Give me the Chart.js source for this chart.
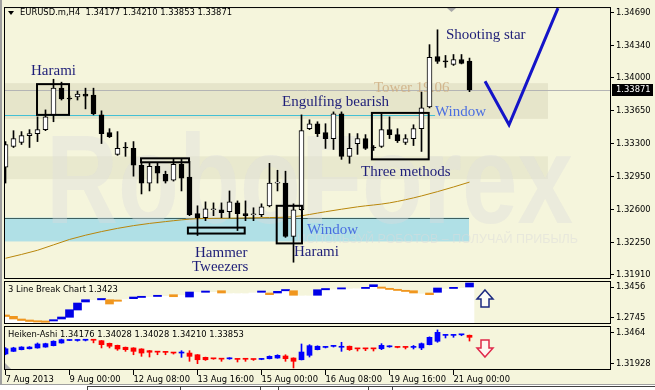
<!DOCTYPE html>
<html>
<head>
<meta charset="utf-8">
<script src="https://cdn.jsdelivr.net/npm/chart.js@4.4.0/dist/chart.umd.min.js"></script>
<style>
  body { margin: 0; background: #f5f5dc; }
  #wrap { position: relative; width: 655px; height: 390px; overflow: hidden; }
  canvas { position: absolute; left: 0; top: 0; }
</style>
</head>
<body>
<div id="wrap">
  <canvas id="c-main" width="655" height="390"></canvas>
  <canvas id="c-lb" width="655" height="390"></canvas>
  <canvas id="c-ha" width="655" height="390"></canvas>
</div>
<script>
// EURUSD.m H4 candles, 7 Aug - 21 Aug 2013
const candleOpen = [
  1.33049, 1.33270, 1.33312, 1.33386, 1.33407, 1.33449, 1.33606, 1.33890, 1.33785, 1.33796,
  1.33827, 1.33817, 1.33606, 1.33417, 1.33186, 1.33259, 1.33249, 1.33070, 1.32881, 1.33060,
  1.32975, 1.32912, 1.33081, 1.32944, 1.32555, 1.32513, 1.32597, 1.32597, 1.32576, 1.32670,
  1.32555, 1.32544, 1.32544, 1.32639, 1.32881, 1.32881, 1.32313, 1.32597, 1.33459, 1.33512,
  1.33417, 1.33354, 1.33617, 1.33165, 1.33301, 1.33354, 1.33259, 1.33270, 1.33449, 1.33396,
  1.33312, 1.33354, 1.33459, 1.33691, 1.34227, 1.34174, 1.34143, 1.34195, 1.34177
];
const candleHigh = [
  1.33322, 1.33438, 1.33428, 1.33449, 1.33585, 1.33659, 1.33985, 1.33954, 1.33806, 1.33859,
  1.33890, 1.33890, 1.33649, 1.33459, 1.33428, 1.33312, 1.33322, 1.33091, 1.33091, 1.33091,
  1.33007, 1.33133, 1.33133, 1.33112, 1.32639, 1.32681, 1.32670, 1.32670, 1.32797, 1.32691,
  1.32691, 1.32618, 1.32660, 1.33091, 1.33017, 1.33007, 1.32660, 1.33606, 1.33554, 1.33533,
  1.33512, 1.33638, 1.33638, 1.33407, 1.33407, 1.33396, 1.33280, 1.33617, 1.33585, 1.33459,
  1.33396, 1.33501, 1.33848, 1.34353, 1.34511, 1.34238, 1.34248, 1.34248, 1.34210
];
const candleLow = [
  1.32881, 1.33259, 1.33291, 1.33259, 1.33322, 1.33438, 1.33533, 1.33764, 1.33764, 1.33764,
  1.33670, 1.33606, 1.33301, 1.33365, 1.33176, 1.33165, 1.32954, 1.32765, 1.32797, 1.32881,
  1.32881, 1.32902, 1.32797, 1.32534, 1.32323, 1.32481, 1.32534, 1.32513, 1.32513, 1.32376,
  1.32481, 1.32481, 1.32523, 1.32628, 1.32797, 1.32303, 1.32039, 1.32587, 1.33449, 1.33375,
  1.33249, 1.33238, 1.33133, 1.33091, 1.33186, 1.33238, 1.33228, 1.33259, 1.33354, 1.33312,
  1.33291, 1.33280, 1.33217, 1.33680, 1.34153, 1.34111, 1.34132, 1.34148, 1.33853
];
const candleClose = [
  1.33291, 1.33354, 1.33386, 1.33407, 1.33449, 1.33585, 1.33890, 1.33775, 1.33775, 1.33827,
  1.33806, 1.33617, 1.33407, 1.33375, 1.33249, 1.33254, 1.33070, 1.32881, 1.33060, 1.32986,
  1.32902, 1.33081, 1.32933, 1.32544, 1.32513, 1.32607, 1.32602, 1.32565, 1.32681, 1.32555,
  1.32534, 1.32549, 1.32628, 1.32881, 1.32886, 1.32313, 1.32597, 1.33438, 1.33512, 1.33407,
  1.33354, 1.33617, 1.33165, 1.33249, 1.33354, 1.33249, 1.33254, 1.33449, 1.33396, 1.33333,
  1.33354, 1.33459, 1.33680, 1.34217, 1.34174, 1.34169, 1.34195, 1.34153, 1.33871
];

// moving average, read at a few bars
const maIdx = [0, 4, 8, 12, 16, 20, 24, 28, 32, 36, 40, 44, 48, 52, 56, 58];
const maVal = [1.32081, 1.32166, 1.32281, 1.32365, 1.32428, 1.32471, 1.32502, 1.32507,
               1.32513, 1.32523, 1.32576, 1.32628, 1.32670, 1.32744, 1.32839, 1.32891];

// 3 Line Break boxes: top, bottom, colour (b = up, o = down, '' = not visible)
const lbHi = [
  1.2815, 1.2784, 1.2722, 1.2699, 1.2682, 1.2676, 1.2706, 1.2768, 1.2937, 1.3092,
  1.3169, 1.3185, 1.3197, 1.3169, 1.3162, 1.3201, 1.3231, 1.3248, 1.3255, 1.3271,
  1.3278, 1.3285, 1.3294, 1.3347, 1.3363, 1.3370, 1.3370, 1.3377, 1.3336, 1.3336,
  1.3336, 1.3354, 1.3370, 1.3324, 1.3363, 1.3405, 1.3377, 1.3282, 1.3282, 1.3400,
  1.3428, 1.3428, 1.3444, 1.3444, 1.3451, 1.3456, 1.3516, 1.3463, 1.3433, 1.3410,
  1.3387, 1.3377, 1.3329, 1.3324, 1.3440, 1.3444, 1.3456, 1.3463, 1.3556
];
const lbLo = [
  1.2780, 1.2722, 1.2687, 1.2664, 1.2652, 1.2645, 1.2676, 1.2722, 1.2761, 1.2930,
  1.3116, 1.3155, 1.3166, 1.3069, 1.3132, 1.3173, 1.3192, 1.3220, 1.3224, 1.3243,
  1.3248, 1.3238, 1.3266, 1.3231, 1.3336, 1.3340, 1.3340, 1.3324, 1.3308, 1.3308,
  1.3308, 1.3324, 1.3340, 1.3285, 1.3324, 1.3375, 1.3271, 1.3255, 1.3255, 1.3271,
  1.3398, 1.3398, 1.3417, 1.3417, 1.3421, 1.3428, 1.3470, 1.3433, 1.3405, 1.3382,
  1.3359, 1.3324, 1.3301, 1.3285, 1.3340, 1.3417, 1.3428, 1.3433, 1.3463
];
const lbCol = [
  'o', 'o', 'o', 'o', 'o', 'o', 'b', 'b', 'b', 'b',
  'b', '', 'b', 'o', 'o', '', 'b', 'b', '', 'b',
  '', 'o', '', 'b', '', 'b', '', 'o', '', '',
  '', '', 'b', 'o', 'b', 'b', 'o', '', '', 'b',
  'b', '', 'b', '', '', 'b', 'b', 'o', 'o', 'o',
  'o', 'o', '', 'o', 'b', '', 'b', '', 'b'
];

// Heiken-Ashi
const haOpen = [
  1.3279, 1.3302, 1.3317, 1.3325, 1.3332, 1.3340, 1.3352, 1.3376, 1.3398, 1.3398,
  1.3400, 1.3402, 1.3396, 1.3373, 1.3355, 1.3338, 1.3332, 1.3323, 1.3308, 1.3297,
  1.3295, 1.3289, 1.3287, 1.3287, 1.3272, 1.3249, 1.3238, 1.3235, 1.3236, 1.3233,
  1.3234, 1.3232, 1.3231, 1.3237, 1.3243, 1.3261, 1.3243, 1.3228, 1.3267, 1.3317,
  1.3337, 1.3346, 1.3338, 1.3347, 1.3326, 1.3326, 1.3326, 1.3325, 1.3342, 1.3339,
  1.3339, 1.3337, 1.3332, 1.3361, 1.3391, 1.3443, 1.3443, 1.3448, 1.3444
];
const haHigh = [
  1.3335, 1.3338, 1.3343, 1.3344, 1.3376, 1.3374, 1.3395, 1.3410, 1.3402, 1.3404,
  1.3406, 1.3404, 1.3398, 1.3375, 1.3357, 1.3340, 1.3334, 1.3325, 1.3310, 1.3298,
  1.3296, 1.3290, 1.3308, 1.3308, 1.3274, 1.3251, 1.3240, 1.3236, 1.3246, 1.3234,
  1.3235, 1.3233, 1.3240, 1.3262, 1.3272, 1.3272, 1.3245, 1.3367, 1.3361, 1.3351,
  1.3345, 1.3354, 1.3382, 1.3349, 1.3327, 1.3327, 1.3327, 1.3370, 1.3352, 1.3340,
  1.3340, 1.3354, 1.3376, 1.3430, 1.3491, 1.3447, 1.3447, 1.3452, 1.3446
];
const haLow = [
  1.3272, 1.3300, 1.3315, 1.3323, 1.3330, 1.3338, 1.3350, 1.3374, 1.3396, 1.3392,
  1.3394, 1.3377, 1.3332, 1.3332, 1.3311, 1.3302, 1.3272, 1.3258, 1.3252, 1.3272,
  1.3272, 1.3278, 1.3249, 1.3214, 1.3193, 1.3222, 1.3232, 1.3214, 1.3232, 1.3208,
  1.3214, 1.3222, 1.3228, 1.3235, 1.3241, 1.3214, 1.3155, 1.3226, 1.3252, 1.3315,
  1.3332, 1.3340, 1.3302, 1.3310, 1.3305, 1.3308, 1.3305, 1.3317, 1.3338, 1.3333,
  1.3323, 1.3323, 1.3317, 1.3359, 1.3382, 1.3420, 1.3426, 1.3440, 1.3393
];
const haClose = [
  1.3325, 1.3332, 1.3340, 1.3340, 1.3367, 1.3370, 1.3391, 1.3405, 1.3400, 1.3400,
  1.3402, 1.3400, 1.3361, 1.3347, 1.3323, 1.3317, 1.3302, 1.3287, 1.3294, 1.3295,
  1.3293, 1.3287, 1.3289, 1.3258, 1.3228, 1.3228, 1.3236, 1.3233, 1.3238, 1.3231,
  1.3232, 1.3230, 1.3233, 1.3258, 1.3267, 1.3237, 1.3214, 1.3296, 1.3352, 1.3347,
  1.3339, 1.3348, 1.3343, 1.3317, 1.3324, 1.3324, 1.3324, 1.3355, 1.3344, 1.3337,
  1.3337, 1.3339, 1.3370, 1.3426, 1.3470, 1.3445, 1.3445, 1.3450, 1.3426
];

const timeIdx = [0, 8, 16, 24, 32, 40, 48, 56];
const timeLabels = ['7 Aug 2013', '9 Aug 00:00', '12 Aug 08:00', '13 Aug 16:00',
                    '15 Aug 00:00', '16 Aug 08:00', '19 Aug 16:00', '21 Aug 00:00'];
const mainTicks = [1.34690, 1.34340, 1.34000, 1.33650, 1.33300, 1.32950, 1.32600, 1.32250, 1.31910];
const lbTicks = [1.3456, 1.2745];
const lbTickLabels = ['1.3456', '1.2745'];
const haTicks = [1.3464, 1.31928];
const haTickLabels = ['1.3464', '1.31928'];

// pattern annotations, in bar index / price units
const zones = [
  { x0: -0.2, x1: 67.8, p0: 1.33943, p1: 1.33564, fill: 'rgba(170,165,130,0.2)' },
  { x0: -0.2, x1: 67.8, p0: 1.33165, p1: 1.32923, fill: 'rgba(170,165,130,0.15)' },
  { x0: -0.2, x1: 57.94, p0: 1.32513, p1: 1.32260, fill: '#b0e0e6' }
];
const boxes = [
  { x0: 3.94, x1: 7.94, p0: 1.33933, p1: 1.33606 },
  { x0: 16.94, x1: 22.94, p0: 1.33144, p1: 1.33102 },
  { x0: 22.8, x1: 29.9, p0: 1.32407, p1: 1.32344 },
  { x0: 33.9, x1: 37.06, p0: 1.32639, p1: 1.32239 },
  { x0: 45.8, x1: 52.9, p0: 1.33627, p1: 1.33133 }
];
const NAVY = '#1e1e78';
const notes = [
  { text: 'Harami', x: 3.19, p: 1.34069, color: NAVY },
  { text: 'Engulfing bearish', x: 34.56, p: 1.33743, color: NAVY },
  { text: 'Shooting star', x: 55.06, p: 1.34458, color: NAVY },
  { text: 'Three methods', x: 44.44, p: 1.32996, color: NAVY },
  { text: 'Hammer', x: 23.69, p: 1.32134, color: NAVY },
  { text: 'Tweezers', x: 23.31, p: 1.31987, color: NAVY },
  { text: 'Harami', x: 36.06, p: 1.32144, color: NAVY },
  { text: 'Window', x: 37.69, p: 1.32376, color: '#4a6ee0' },
  { text: 'Window', x: 53.69, p: 1.33638, color: '#4a6ee0' }
];
const towerNote = { text: 'Tower 19.06', x: 46.06, p: 1.33890, color: 'rgba(205,170,125,0.8)' };
const checkX = [59.94, 62.94, 69.06];
const checkP = [1.33964, 1.33501, 1.34742];

const X_MIN = -0.1875, X_MAX = 75.6875;
const UI_FONT = '8.4px "DejaVu Sans"';
const tickFont = { family: 'DejaVu Sans', size: 8.4 };

Chart.defaults.animation = false;
Chart.defaults.events = [];
Chart.defaults.plugins.legend.display = false;
Chart.defaults.plugins.tooltip.enabled = false;

function xAxis(show) {
  const ax = {
    type: 'linear', min: X_MIN, max: X_MAX, offset: false, display: show,
    grid: { offset: false, drawOnChartArea: false, tickLength: 5, color: '#000' },
    border: { display: false }
  };
  if (show) {
    ax.afterBuildTicks = s => { s.ticks = timeIdx.map(v => ({ value: v })); };
    ax.afterFit = s => { s.height = 14; };
    ax.ticks = { autoSkip: false, maxRotation: 0, align: 'start', padding: 0, color: '#000', font: tickFont,
                 callback: (v, i) => timeLabels[i] };
  }
  return ax;
}

function yAxis(min, max, ticks, labelOf) {
  return {
    position: 'right', min, max, beginAtZero: false,
    afterFit: s => { s.width = 44; },
    afterBuildTicks: s => { s.ticks = ticks.map(v => ({ value: v })); },
    ticks: { autoSkip: false, padding: 2, color: '#000', font: tickFont, callback: labelOf },
    grid: { drawOnChartArea: false, tickLength: 3, color: '#000' },
    border: { display: false }
  };
}

function frame(chart) {
  const { ctx, chartArea: a } = chart;
  ctx.save();
  ctx.strokeStyle = '#000';
  ctx.lineWidth = 1;
  ctx.strokeRect(a.left + 0.5, a.top + 0.5, a.width - 1, a.height - 1);
  ctx.restore();
}

function drawArrow(ctx, cx, top, up, stroke, fill) {
  const h = 17, head = 9, hw = 8, sw = 4;
  const Y = d => up ? top + d : top + h - d;
  ctx.save();
  ctx.beginPath();
  ctx.moveTo(cx, Y(0));
  ctx.lineTo(cx + hw, Y(head));
  ctx.lineTo(cx + sw, Y(head));
  ctx.lineTo(cx + sw, Y(h));
  ctx.lineTo(cx - sw, Y(h));
  ctx.lineTo(cx - sw, Y(head));
  ctx.lineTo(cx - hw, Y(head));
  ctx.closePath();
  ctx.fillStyle = fill;
  ctx.fill();
  ctx.strokeStyle = stroke;
  ctx.lineWidth = 1.5;
  ctx.stroke();
  ctx.restore();
}

const mainDecor = {
  id: 'mainDecor',
  beforeDatasetsDraw(chart) {
    const { ctx, chartArea: a, scales: { x, y } } = chart;
    ctx.save();
    ctx.beginPath();
    ctx.rect(a.left, a.top, a.width, a.height);
    ctx.clip();

    zones.forEach(z => {
      const x0 = x.getPixelForValue(z.x0), x1 = x.getPixelForValue(z.x1);
      const y0 = y.getPixelForValue(z.p0), y1 = y.getPixelForValue(z.p1);
      ctx.fillStyle = z.fill;
      ctx.fillRect(x0, y0, x1 - x0, y1 - y0);
    });

    // window edges
    ctx.lineWidth = 1;
    ctx.strokeStyle = '#3d5f5f';
    let yy = Math.round(y.getPixelForValue(1.32513)) + 0.5;
    ctx.beginPath(); ctx.moveTo(a.left, yy); ctx.lineTo(x.getPixelForValue(57.94), yy); ctx.stroke();
    ctx.strokeStyle = '#44c0d4';
    yy = Math.round(y.getPixelForValue(1.33603)) + 0.5;
    ctx.beginPath(); ctx.moveTo(a.left, yy); ctx.lineTo(x.getPixelForValue(53.7), yy); ctx.stroke();

    // watermark over the zones
    ctx.save();
    ctx.font = 'bold 126px "Liberation Sans"';
    const w = ctx.measureText('RoboForex').width;
    ctx.translate(46, 223);
    ctx.scale(527 / w, 1);
    ctx.fillStyle = 'rgba(220,220,220,0.4)';
    ctx.fillText('RoboForex', 0, 0);
    ctx.restore();
    ctx.font = '12.5px "Liberation Sans"';
    ctx.textAlign = 'right';
    ctx.fillStyle = 'rgba(220,220,220,0.5)';
    ctx.fillText('ИСПОЛЬЗУЙ РОБОТОВ – ПОЛУЧАЙ ПРИБЫЛЬ', 578, 243);

    // last price line
    const last = candleClose[candleClose.length - 1];
    yy = Math.round(y.getPixelForValue(last)) + 0.5;
    ctx.strokeStyle = '#b4b4b4';
    ctx.beginPath(); ctx.moveTo(a.left, yy); ctx.lineTo(a.right, yy); ctx.stroke();

    ctx.font = '15px "Liberation Serif"';
    ctx.textAlign = 'left';
    ctx.textBaseline = 'middle';
    ctx.fillStyle = towerNote.color;
    ctx.fillText(towerNote.text, x.getPixelForValue(towerNote.x), y.getPixelForValue(towerNote.p));
    ctx.restore();
  },
  afterDatasetsDraw(chart) {
    const { ctx, chartArea: a, scales: { x, y } } = chart;
    ctx.save();
    ctx.strokeStyle = '#000';
    ctx.lineWidth = 2;
    boxes.forEach(b => {
      const x0 = x.getPixelForValue(b.x0), x1 = x.getPixelForValue(b.x1);
      const y0 = y.getPixelForValue(b.p0), y1 = y.getPixelForValue(b.p1);
      ctx.strokeRect(x0, y0, x1 - x0, y1 - y0);
    });

    ctx.font = '15px "Liberation Serif"';
    ctx.textBaseline = 'middle';
    ctx.textAlign = 'left';
    notes.forEach(n => {
      ctx.fillStyle = n.color;
      ctx.fillText(n.text, x.getPixelForValue(n.x), y.getPixelForValue(n.p));
    });

    // forecast tick
    ctx.strokeStyle = '#1414c8';
    ctx.lineWidth = 3;
    ctx.lineJoin = 'miter';
    ctx.beginPath();
    checkX.forEach((v, i) => {
      const px = x.getPixelForValue(v), py = y.getPixelForValue(checkP[i]);
      if (i === 0) ctx.moveTo(px, py); else ctx.lineTo(px, py);
    });
    ctx.stroke();

    // title
    const n = candleOpen.length - 1;
    ctx.fillStyle = '#000';
    ctx.beginPath();
    ctx.moveTo(8, 11); ctx.lineTo(14, 11); ctx.lineTo(11, 15); ctx.closePath();
    ctx.fill();
    ctx.font = UI_FONT;
    ctx.fillText('EURUSD.m,H4  ' + [candleOpen[n], candleHigh[n], candleLow[n], candleClose[n]]
      .map(v => v.toFixed(5)).join(' '), 20, 13);

    // shift marker
    ctx.fillStyle = '#a8a8a8';
    ctx.beginPath();
    ctx.moveTo(447, a.top + 1); ctx.lineTo(456, a.top + 1); ctx.lineTo(451.5, a.top + 5); ctx.closePath();
    ctx.fill();
    ctx.restore();
  },
  afterDraw(chart) {
    frame(chart);
    const { ctx, chartArea: a, scales: { y } } = chart;
    const last = candleClose[candleClose.length - 1];
    const py = Math.round(y.getPixelForValue(last));
    ctx.save();
    ctx.fillStyle = '#000';
    ctx.fillRect(a.right + 1, py - 6, 41, 12);
    ctx.fillStyle = '#fff';
    ctx.font = UI_FONT;
    ctx.textBaseline = 'middle';
    ctx.fillText(last.toFixed(5), a.right + 5, py);
    // window edge and bottom tab strip
    ctx.fillStyle = '#a0a0a0';
    ctx.fillRect(0, 0, 2, 384);
    ctx.fillStyle = '#ffffff';
    ctx.fillRect(0, 384, 655, 6);
    ctx.fillStyle = '#a0a0a0';
    ctx.fillRect(0, 384, 655, 1);
    ctx.fillStyle = '#404040';
    ctx.fillRect(87, 386, 568, 1);
    [87, 180, 260, 278, 368, 392].forEach(v => ctx.fillRect(v, 386, 1, 4));
    ctx.restore();
  }
};

new Chart(document.getElementById('c-main'), {
  type: 'bar',
  data: {
    datasets: [
      {
        label: 'body',
        data: candleOpen.map((o, i) => ({ x: i, y: [o, candleClose[i]] })),
        backgroundColor: candleOpen.map((o, i) => candleClose[i] > o ? '#ffffff' : '#000000'),
        borderColor: '#000', borderWidth: 1, borderSkipped: false,
        barThickness: 5, grouped: false, minBarLength: 1
      },
      {
        label: 'wick',
        data: candleLow.map((l, i) => ({ x: i, y: [l, candleHigh[i]] })),
        backgroundColor: '#000', barThickness: 1, grouped: false
      },
      {
        type: 'line', label: 'MA',
        data: maIdx.map((v, i) => ({ x: v, y: maVal[i] })),
        borderColor: '#b8860b', borderWidth: 1, pointRadius: 0, cubicInterpolationMode: 'monotone'
      }
    ]
  },
  options: {
    responsive: false,
    devicePixelRatio: 1,
    layout: { padding: { left: 4, right: 0, top: 4, bottom: 111 } },
    scales: {
      x: xAxis(false),
      y: yAxis(1.318605, 1.347529, mainTicks, v => v.toFixed(5))
    }
  },
  plugins: [mainDecor]
});

// 3 Line Break panel
const LB_MIN = 1.2606;
new Chart(document.getElementById('c-lb'), {
  type: 'bar',
  data: {
    datasets: [
      {
        label: 'box',
        data: lbHi.map((h, i) => ({ x: i, y: [lbLo[i], h] })),
        backgroundColor: lbCol.map(c => c === 'b' ? '#0000e6' : c === 'o' ? '#f0961e' : 'rgba(0,0,0,0)'),
        barThickness: 8, grouped: false, minBarLength: 1
      },
      {
        label: 'base',
        data: lbLo.map((l, i) => ({ x: i, y: [LB_MIN, l] })),
        backgroundColor: '#ffffff', barThickness: 9, grouped: false
      }
    ]
  },
  options: {
    responsive: false,
    devicePixelRatio: 1,
    layout: { padding: { left: 4, right: 0, top: 281, bottom: 66 } },
    scales: {
      x: xAxis(false),
      y: yAxis(LB_MIN, 1.3602, lbTicks, (v, i) => lbTickLabels[i])
    }
  },
  plugins: [{
    id: 'lbDecor',
    afterDraw(chart) {
      frame(chart);
      const ctx = chart.ctx;
      ctx.save();
      ctx.font = UI_FONT;
      ctx.fillStyle = '#000';
      ctx.textBaseline = 'middle';
      ctx.fillText('3 Line Break Chart 1.3423', 8, 290);
      ctx.restore();
      drawArrow(ctx, 485, 290, true, '#1c2a80', 'rgba(255,255,255,0.75)');
    }
  }]
});

// Heiken-Ashi panel
new Chart(document.getElementById('c-ha'), {
  type: 'bar',
  data: {
    datasets: [
      {
        label: 'body',
        data: haOpen.map((o, i) => ({ x: i, y: [o, haClose[i]] })),
        backgroundColor: haOpen.map((o, i) => haClose[i] >= o ? '#0000ff' : '#ff0000'),
        barThickness: 5, grouped: false, minBarLength: 1
      },
      {
        label: 'wick',
        data: haLow.map((l, i) => ({ x: i, y: [l, haHigh[i]] })),
        backgroundColor: haOpen.map((o, i) => haClose[i] >= o ? '#0000ff' : '#ff0000'),
        barThickness: 1, grouped: false
      }
    ]
  },
  options: {
    responsive: false,
    devicePixelRatio: 1,
    layout: { padding: { left: 4, right: 0, top: 326, bottom: 6 } },
    scales: {
      x: xAxis(true),
      y: yAxis(1.31373, 1.35258, haTicks, (v, i) => haTickLabels[i])
    }
  },
  plugins: [{
    id: 'haDecor',
    afterDraw(chart) {
      frame(chart);
      const { ctx, chartArea: a } = chart;
      ctx.save();
      ctx.font = UI_FONT;
      ctx.fillStyle = '#000';
      ctx.textBaseline = 'middle';
      ctx.fillText('Heiken-Ashi 1.34176 1.34028 1.34028 1.34210 1.33853', 8, 335);
      // scroll corner marker
      ctx.fillStyle = '#b0b0b0';
      ctx.beginPath();
      ctx.moveTo(a.left + 1, a.bottom - 7); ctx.lineTo(a.left + 1, a.bottom - 1); ctx.lineTo(a.left + 7, a.bottom - 1);
      ctx.closePath();
      ctx.fill();
      ctx.restore();
      drawArrow(ctx, 485, 340, false, '#e0284a', 'rgba(255,245,245,0.85)');
    }
  }]
});
</script>
</body>
</html>
